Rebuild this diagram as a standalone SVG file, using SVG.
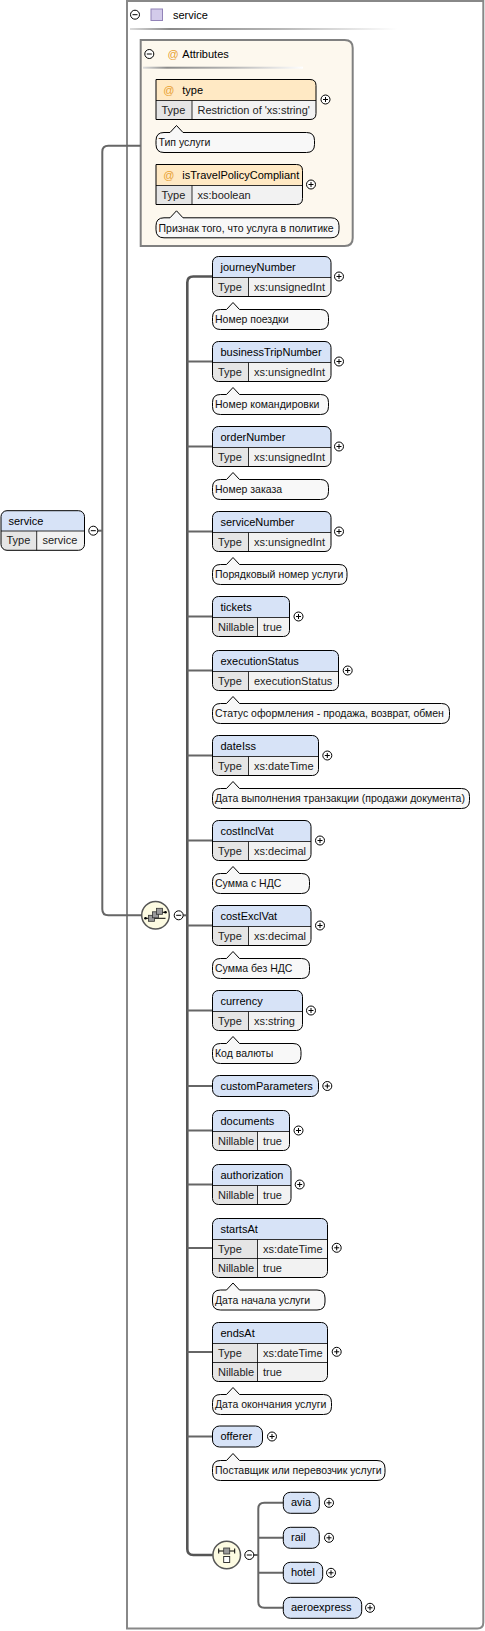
<svg xmlns="http://www.w3.org/2000/svg" xmlns:xlink="http://www.w3.org/1999/xlink" width="485" height="1631" viewBox="0 0 485 1631">
<style>
text{font-family:"Liberation Sans",Arial,sans-serif;}
.lbl{font-size:11px;fill:#000;}
.cell{font-size:11px;fill:#222;}
.ann{font-size:10.5px;fill:#111;}
.at{font-size:11px;fill:#E8A030;}
.hd{fill:#D7E3F7;}
.ah{fill:#FFE9C4;}
.tc{fill:#E5E5E5;}
.vc{fill:#F2F2F2;}
.ol{fill:none;stroke:#000;stroke-width:1;}
.sep{fill:none;stroke:#000;stroke-width:0.8;}
.an{fill:#F8F8F8;stroke:#000;stroke-width:1;}
.one{fill:#D7E3F7;stroke:#000;stroke-width:1;}
.cn{fill:none;stroke:#666;stroke-width:2;}
.pm circle{fill:#fff;stroke:#000;stroke-width:1;}
.pm path{fill:none;stroke:#000;stroke-width:1;}
.comp{fill:#FDFBE2;stroke:#555;stroke-width:1.5;}
.ico{fill:#9a9a9a;stroke:#333;stroke-width:0.8;}
</style>
<defs>
<g id="plus" class="pm"><circle r="4.5"/><path d="M-2.5,0H2.5M0,-2.5V2.5"/></g>
<g id="minus" class="pm"><circle r="4.5"/><path d="M-2.5,0H2.5"/></g>
<linearGradient id="hl" x1="0" x2="1" y1="0" y2="0">
<stop offset="0" stop-color="#dcdcdc"/><stop offset="0.15" stop-color="#8a8a8a"/><stop offset="0.55" stop-color="#b5b5b5"/><stop offset="1" stop-color="#ffffff"/>
</linearGradient>
</defs>
<rect width="485" height="1631" fill="#fff"/>

<!-- outer complexType box -->
<g id="complexType-service">
<path d="M127,1H483.3V1622.5Q483.3,1628.5 477.3,1628.5H127Z" fill="#fff" stroke="#888" stroke-width="2"/>
<use xlink:href="#minus" href="#minus" x="135" y="14.7"/>
<rect x="151" y="9" width="11.5" height="11.5" fill="#D3CBEA" stroke="#9283B8" stroke-width="1"/>
<text class="lbl" x="173" y="18.5">service</text>
<rect x="130" y="28" width="267" height="2" fill="url(#hl)"/>
</g>

<!-- attributes container -->
<g id="attributes">
<path d="M140.7,40H344.7Q352.7,40 352.7,48V238Q352.7,246 344.7,246H140.7Z" fill="#FDF8EE" stroke="#808080" stroke-width="2"/>
<use xlink:href="#minus" href="#minus" x="149.3" y="54"/>
<text class="at" x="167.5" y="57.5">@</text>
<text class="lbl" x="182.3" y="57.5">Attributes</text>
<rect x="143" y="66.7" width="160" height="2" fill="url(#hl)"/>
</g>

<g id="attr-type" transform="translate(156,79.5)">
<path class="ah" d="M0,21V0H154Q160,0 160,6V21Z"/>
<path class="vc" d="M0,21H160V34Q160,40 154,40H0Z"/>
<rect class="tc" x="0" y="21" width="36" height="19"/>
<path class="ol" d="M0,0H154Q160,0 160,6V34Q160,40 154,40H0Z"/>
<path class="sep" d="M0,21H160M36,21V40"/>
<text class="at" x="7.3" y="14.5">@</text>
<text class="lbl" x="26.3" y="14.5">type</text>
<text class="cell" x="5.5" y="34.5">Type</text>
<text class="cell" x="41.5" y="34.5">Restriction of 'xs:string'</text>
<use xlink:href="#plus" href="#plus" x="169.5" y="20"/>
<g transform="translate(0,53)">
<path class="an" d="M8,0H14L20.5,-7L27,0H150.5Q158.5,0 158.5,8V12Q158.5,20 150.5,20H8Q0,20 0,12V8Q0,0 8,0Z"/>
<text class="ann" x="2.5" y="13.8">Тип услуги</text>
</g>
</g>

<g id="attr-isTravelPolicyCompliant" transform="translate(156,164.5)">
<path class="ah" d="M0,21V0H140.5Q146.5,0 146.5,6V21Z"/>
<path class="vc" d="M0,21H146.5V34Q146.5,40 140.5,40H0Z"/>
<rect class="tc" x="0" y="21" width="36" height="19"/>
<path class="ol" d="M0,0H140.5Q146.5,0 146.5,6V34Q146.5,40 140.5,40H0Z"/>
<path class="sep" d="M0,21H146.5M36,21V40"/>
<text class="at" x="7.3" y="14.5">@</text>
<text class="lbl" x="26.3" y="14.5">isTravelPolicyCompliant</text>
<text class="cell" x="5.5" y="34.5">Type</text>
<text class="cell" x="41.5" y="34.5">xs:boolean</text>
<use xlink:href="#plus" href="#plus" x="155" y="20"/>
<g transform="translate(0,53.3)">
<path class="an" d="M8,0H14L20.5,-7L27,0H175Q183,0 183,8V12Q183,20 175,20H8Q0,20 0,12V8Q0,0 8,0Z"/>
<text class="ann" x="2.5" y="13.8">Признак того, что услуга в политике</text>
</g>
</g>

<!-- connectors -->
<g id="connectors" class="cn">
<path d="M97.8,530.7H102.3"/>
<path d="M140.7,145.7H108.3Q102.3,145.7 102.3,151.7V909.3Q102.3,915.3 108.3,915.3H141.5"/>
<path d="M183.2,915.3H187.3"/>
<path d="M212.5,276.5H193.3Q187.3,276.5 187.3,282.5V1549Q187.3,1555 193.3,1555H212.7" stroke="#555" stroke-width="2.6"/>
<path d="M187.3,361.5H212.5M187.3,446.5H212.5M187.3,531.5H212.5M187.3,616.5H212.5M187.3,670.5H212.5M187.3,755.5H212.5M187.3,840.5H212.5M187.3,925.5H212.5M187.3,1010.5H212.5M187.3,1086H212.5M187.3,1130.5H212.5M187.3,1184.5H212.5M187.3,1248H212.5M187.3,1352H212.5M187.3,1436.5H212.5"/>
<path d="M253.8,1555H258.3"/>
<path d="M283.3,1502.8H264.3Q258.3,1502.8 258.3,1508.8V1601.8Q258.3,1607.8 264.3,1607.8H283.3"/>
<path d="M258.3,1537.8H283.3M258.3,1572.8H283.3"/>
</g>

<!-- root element -->
<g id="el-service" transform="translate(1,510.7)">
<path class="hd" d="M0,20.3V6Q0,0 6,0H77.5Q83.5,0 83.5,6V20.3Z"/>
<path class="vc" d="M0,20.3H83.5V33.6Q83.5,39.6 77.5,39.6H6Q0,39.6 0,33.6Z"/>
<path class="tc" d="M0,20.3H35.7V39.6H6Q0,39.6 0,33.6Z"/>
<rect class="ol" width="83.5" height="39.6" rx="6"/>
<path class="sep" d="M0,20.3H83.5M35.7,20.3V39.6"/>
<text class="lbl" x="7.5" y="14.3">service</text>
<text class="cell" x="5.5" y="33.8">Type</text>
<text class="cell" x="41.5" y="33.8">service</text>
<use xlink:href="#minus" href="#minus" x="92.3" y="20"/>
</g>

<!-- sequence compositor -->
<g id="sequence" transform="translate(155.5,915.3)">
<circle class="comp" r="13.8"/>
<path d="M-10,3H10" stroke="#000" stroke-width="1"/>
<circle cx="-10" cy="3" r="1.3" fill="#000"/>
<circle cx="10" cy="-3" r="1.3" fill="#000"/>
<path d="M6,-3H10" stroke="#000" stroke-width="1"/>
<rect class="ico" x="-7" y="0" width="6" height="6"/>
<rect class="ico" x="-3" y="-3.5" width="6" height="6"/>
<rect class="ico" x="1" y="-7" width="6" height="6"/>
<use xlink:href="#minus" href="#minus" x="23.2" y="0"/>
</g>

<g id="el-journeyNumber" transform="translate(212.5,256.5)">
<path class="hd" d="M0,21V6Q0,0 6,0H112.5Q118.5,0 118.5,6V21Z"/>
<path class="vc" d="M0,21H118.5V34Q118.5,40 112.5,40H6Q0,40 0,34Z"/>
<path class="tc" d="M0,21H36V40H6Q0,40 0,34Z"/>
<rect class="ol" width="118.5" height="40" rx="6"/>
<path class="sep" d="M0,21H118.5M36,21V40"/>
<text class="lbl" x="8" y="14">journeyNumber</text>
<text class="cell" x="5.5" y="34.4">Type</text>
<text class="cell" x="41.5" y="34.4">xs:unsignedInt</text>
<use xlink:href="#plus" href="#plus" x="126.5" y="20"/>
<g transform="translate(0,53)">
<path class="an" d="M8,0H14L20.5,-7L27,0H108Q116,0 116,8V12Q116,20 108,20H8Q0,20 0,12V8Q0,0 8,0Z"/>
<text class="ann" x="2.5" y="13.8">Номер поездки</text>
</g>
</g>

<g id="el-businessTripNumber" transform="translate(212.5,341.5)">
<path class="hd" d="M0,21V6Q0,0 6,0H112.5Q118.5,0 118.5,6V21Z"/>
<path class="vc" d="M0,21H118.5V34Q118.5,40 112.5,40H6Q0,40 0,34Z"/>
<path class="tc" d="M0,21H36V40H6Q0,40 0,34Z"/>
<rect class="ol" width="118.5" height="40" rx="6"/>
<path class="sep" d="M0,21H118.5M36,21V40"/>
<text class="lbl" x="8" y="14">businessTripNumber</text>
<text class="cell" x="5.5" y="34.4">Type</text>
<text class="cell" x="41.5" y="34.4">xs:unsignedInt</text>
<use xlink:href="#plus" href="#plus" x="126.5" y="20"/>
<g transform="translate(0,53)">
<path class="an" d="M8,0H14L20.5,-7L27,0H108Q116,0 116,8V12Q116,20 108,20H8Q0,20 0,12V8Q0,0 8,0Z"/>
<text class="ann" x="2.5" y="13.8">Номер командировки</text>
</g>
</g>

<g id="el-orderNumber" transform="translate(212.5,426.5)">
<path class="hd" d="M0,21V6Q0,0 6,0H112.5Q118.5,0 118.5,6V21Z"/>
<path class="vc" d="M0,21H118.5V34Q118.5,40 112.5,40H6Q0,40 0,34Z"/>
<path class="tc" d="M0,21H36V40H6Q0,40 0,34Z"/>
<rect class="ol" width="118.5" height="40" rx="6"/>
<path class="sep" d="M0,21H118.5M36,21V40"/>
<text class="lbl" x="8" y="14">orderNumber</text>
<text class="cell" x="5.5" y="34.4">Type</text>
<text class="cell" x="41.5" y="34.4">xs:unsignedInt</text>
<use xlink:href="#plus" href="#plus" x="126.5" y="20"/>
<g transform="translate(0,53)">
<path class="an" d="M8,0H14L20.5,-7L27,0H108Q116,0 116,8V12Q116,20 108,20H8Q0,20 0,12V8Q0,0 8,0Z"/>
<text class="ann" x="2.5" y="13.8">Номер заказа</text>
</g>
</g>

<g id="el-serviceNumber" transform="translate(212.5,511.5)">
<path class="hd" d="M0,21V6Q0,0 6,0H112.5Q118.5,0 118.5,6V21Z"/>
<path class="vc" d="M0,21H118.5V34Q118.5,40 112.5,40H6Q0,40 0,34Z"/>
<path class="tc" d="M0,21H36V40H6Q0,40 0,34Z"/>
<rect class="ol" width="118.5" height="40" rx="6"/>
<path class="sep" d="M0,21H118.5M36,21V40"/>
<text class="lbl" x="8" y="14">serviceNumber</text>
<text class="cell" x="5.5" y="34.4">Type</text>
<text class="cell" x="41.5" y="34.4">xs:unsignedInt</text>
<use xlink:href="#plus" href="#plus" x="126.5" y="20"/>
<g transform="translate(0,53)">
<path class="an" d="M8,0H14L20.5,-7L27,0H126.5Q134.5,0 134.5,8V12Q134.5,20 126.5,20H8Q0,20 0,12V8Q0,0 8,0Z"/>
<text class="ann" x="2.5" y="13.8">Порядковый номер услуги</text>
</g>
</g>

<g id="el-tickets" transform="translate(212.5,596.5)">
<path class="hd" d="M0,21V6Q0,0 6,0H71Q77,0 77,6V21Z"/>
<path class="vc" d="M0,21H77V34Q77,40 71,40H6Q0,40 0,34Z"/>
<path class="tc" d="M0,21H45V40H6Q0,40 0,34Z"/>
<rect class="ol" width="77" height="40" rx="6"/>
<path class="sep" d="M0,21H77M45,21V40"/>
<text class="lbl" x="8" y="14">tickets</text>
<text class="cell" x="5.5" y="34.4">Nillable</text>
<text class="cell" x="50.5" y="34.4">true</text>
<use xlink:href="#plus" href="#plus" x="86" y="20"/>
</g>

<g id="el-executionStatus" transform="translate(212.5,650.5)">
<path class="hd" d="M0,21V6Q0,0 6,0H120Q126,0 126,6V21Z"/>
<path class="vc" d="M0,21H126V34Q126,40 120,40H6Q0,40 0,34Z"/>
<path class="tc" d="M0,21H36V40H6Q0,40 0,34Z"/>
<rect class="ol" width="126" height="40" rx="6"/>
<path class="sep" d="M0,21H126M36,21V40"/>
<text class="lbl" x="8" y="14">executionStatus</text>
<text class="cell" x="5.5" y="34.4">Type</text>
<text class="cell" x="41.5" y="34.4">executionStatus</text>
<use xlink:href="#plus" href="#plus" x="135.2" y="20"/>
<g transform="translate(0,53)">
<path class="an" d="M8,0H14L20.5,-7L27,0H229Q237,0 237,8V12Q237,20 229,20H8Q0,20 0,12V8Q0,0 8,0Z"/>
<text class="ann" x="2.5" y="13.8">Статус оформления - продажа, возврат, обмен</text>
</g>
</g>

<g id="el-dateIss" transform="translate(212.5,735.5)">
<path class="hd" d="M0,21V6Q0,0 6,0H100Q106,0 106,6V21Z"/>
<path class="vc" d="M0,21H106V34Q106,40 100,40H6Q0,40 0,34Z"/>
<path class="tc" d="M0,21H36V40H6Q0,40 0,34Z"/>
<rect class="ol" width="106" height="40" rx="6"/>
<path class="sep" d="M0,21H106M36,21V40"/>
<text class="lbl" x="8" y="14">dateIss</text>
<text class="cell" x="5.5" y="34.4">Type</text>
<text class="cell" x="41.5" y="34.4">xs:dateTime</text>
<use xlink:href="#plus" href="#plus" x="114.8" y="20"/>
<g transform="translate(0,53)">
<path class="an" d="M8,0H14L20.5,-7L27,0H249Q257,0 257,8V12Q257,20 249,20H8Q0,20 0,12V8Q0,0 8,0Z"/>
<text class="ann" x="2.5" y="13.8">Дата выполнения транзакции (продажи документа)</text>
</g>
</g>

<g id="el-costInclVat" transform="translate(212.5,820.5)">
<path class="hd" d="M0,21V6Q0,0 6,0H92.5Q98.5,0 98.5,6V21Z"/>
<path class="vc" d="M0,21H98.5V34Q98.5,40 92.5,40H6Q0,40 0,34Z"/>
<path class="tc" d="M0,21H36V40H6Q0,40 0,34Z"/>
<rect class="ol" width="98.5" height="40" rx="6"/>
<path class="sep" d="M0,21H98.5M36,21V40"/>
<text class="lbl" x="8" y="14">costInclVat</text>
<text class="cell" x="5.5" y="34.4">Type</text>
<text class="cell" x="41.5" y="34.4">xs:decimal</text>
<use xlink:href="#plus" href="#plus" x="107.5" y="20"/>
<g transform="translate(0,53)">
<path class="an" d="M8,0H14L20.5,-7L27,0H89Q97,0 97,8V12Q97,20 89,20H8Q0,20 0,12V8Q0,0 8,0Z"/>
<text class="ann" x="2.5" y="13.8">Сумма с НДС</text>
</g>
</g>

<g id="el-costExclVat" transform="translate(212.5,905.5)">
<path class="hd" d="M0,21V6Q0,0 6,0H92.5Q98.5,0 98.5,6V21Z"/>
<path class="vc" d="M0,21H98.5V34Q98.5,40 92.5,40H6Q0,40 0,34Z"/>
<path class="tc" d="M0,21H36V40H6Q0,40 0,34Z"/>
<rect class="ol" width="98.5" height="40" rx="6"/>
<path class="sep" d="M0,21H98.5M36,21V40"/>
<text class="lbl" x="8" y="14">costExclVat</text>
<text class="cell" x="5.5" y="34.4">Type</text>
<text class="cell" x="41.5" y="34.4">xs:decimal</text>
<use xlink:href="#plus" href="#plus" x="107.5" y="20"/>
<g transform="translate(0,53)">
<path class="an" d="M8,0H14L20.5,-7L27,0H89Q97,0 97,8V12Q97,20 89,20H8Q0,20 0,12V8Q0,0 8,0Z"/>
<text class="ann" x="2.5" y="13.8">Сумма без НДС</text>
</g>
</g>

<g id="el-currency" transform="translate(212.5,990.5)">
<path class="hd" d="M0,21V6Q0,0 6,0H84Q90,0 90,6V21Z"/>
<path class="vc" d="M0,21H90V34Q90,40 84,40H6Q0,40 0,34Z"/>
<path class="tc" d="M0,21H36V40H6Q0,40 0,34Z"/>
<rect class="ol" width="90" height="40" rx="6"/>
<path class="sep" d="M0,21H90M36,21V40"/>
<text class="lbl" x="8" y="14">currency</text>
<text class="cell" x="5.5" y="34.4">Type</text>
<text class="cell" x="41.5" y="34.4">xs:string</text>
<use xlink:href="#plus" href="#plus" x="98.5" y="20"/>
<g transform="translate(0,53)">
<path class="an" d="M8,0H14L20.5,-7L27,0H80.5Q88.5,0 88.5,8V12Q88.5,20 80.5,20H8Q0,20 0,12V8Q0,0 8,0Z"/>
<text class="ann" x="2.5" y="13.8">Код валюты</text>
</g>
</g>

<g id="el-customParameters" transform="translate(212.5,1075.5)">
<rect class="one" width="106" height="21" rx="7"/>
<text class="lbl" x="8" y="14">customParameters</text>
<use xlink:href="#plus" href="#plus" x="114.8" y="10.5"/>
</g>

<g id="el-documents" transform="translate(212.5,1110.5)">
<path class="hd" d="M0,21V6Q0,0 6,0H71Q77,0 77,6V21Z"/>
<path class="vc" d="M0,21H77V34Q77,40 71,40H6Q0,40 0,34Z"/>
<path class="tc" d="M0,21H45V40H6Q0,40 0,34Z"/>
<rect class="ol" width="77" height="40" rx="6"/>
<path class="sep" d="M0,21H77M45,21V40"/>
<text class="lbl" x="8" y="14">documents</text>
<text class="cell" x="5.5" y="34.4">Nillable</text>
<text class="cell" x="50.5" y="34.4">true</text>
<use xlink:href="#plus" href="#plus" x="86" y="20"/>
</g>

<g id="el-authorization" transform="translate(212.5,1164.5)">
<path class="hd" d="M0,21V6Q0,0 6,0H72.5Q78.5,0 78.5,6V21Z"/>
<path class="vc" d="M0,21H78.5V34Q78.5,40 72.5,40H6Q0,40 0,34Z"/>
<path class="tc" d="M0,21H45V40H6Q0,40 0,34Z"/>
<rect class="ol" width="78.5" height="40" rx="6"/>
<path class="sep" d="M0,21H78.5M45,21V40"/>
<text class="lbl" x="8" y="14">authorization</text>
<text class="cell" x="5.5" y="34.4">Nillable</text>
<text class="cell" x="50.5" y="34.4">true</text>
<use xlink:href="#plus" href="#plus" x="87.2" y="20"/>
</g>

<g id="el-startsAt" transform="translate(212.5,1218.5)">
<path class="hd" d="M0,21V6Q0,0 6,0H109Q115,0 115,6V21Z"/>
<path class="vc" d="M0,21H115V53Q115,59 109,59H6Q0,59 0,53Z"/>
<path class="tc" d="M0,21H45V59H6Q0,59 0,53Z"/>
<rect class="ol" width="115" height="59" rx="6"/>
<path class="sep" d="M0,21H115M0,40H115M45,21V59"/>
<text class="lbl" x="8" y="14">startsAt</text>
<text class="cell" x="5.5" y="34.4">Type</text>
<text class="cell" x="50.5" y="34.4">xs:dateTime</text>
<text class="cell" x="5.5" y="53.4">Nillable</text>
<text class="cell" x="50.5" y="53.4">true</text>
<use xlink:href="#plus" href="#plus" x="124.2" y="29.3"/>
<g transform="translate(0,71.5)">
<path class="an" d="M8,0H14L20.5,-7L27,0H104.5Q112.5,0 112.5,8V12Q112.5,20 104.5,20H8Q0,20 0,12V8Q0,0 8,0Z"/>
<text class="ann" x="2.5" y="13.8">Дата начала услуги</text>
</g>
</g>

<g id="el-endsAt" transform="translate(212.5,1322.5)">
<path class="hd" d="M0,21V6Q0,0 6,0H109Q115,0 115,6V21Z"/>
<path class="vc" d="M0,21H115V53Q115,59 109,59H6Q0,59 0,53Z"/>
<path class="tc" d="M0,21H45V59H6Q0,59 0,53Z"/>
<rect class="ol" width="115" height="59" rx="6"/>
<path class="sep" d="M0,21H115M0,40H115M45,21V59"/>
<text class="lbl" x="8" y="14">endsAt</text>
<text class="cell" x="5.5" y="34.4">Type</text>
<text class="cell" x="50.5" y="34.4">xs:dateTime</text>
<text class="cell" x="5.5" y="53.4">Nillable</text>
<text class="cell" x="50.5" y="53.4">true</text>
<use xlink:href="#plus" href="#plus" x="124.2" y="29.3"/>
<g transform="translate(0,72)">
<path class="an" d="M8,0H14L20.5,-7L27,0H111Q119,0 119,8V12Q119,20 111,20H8Q0,20 0,12V8Q0,0 8,0Z"/>
<text class="ann" x="2.5" y="13.8">Дата окончания услуги</text>
</g>
</g>

<g id="el-offerer" transform="translate(212.5,1426)">
<rect class="one" width="50" height="21" rx="7"/>
<text class="lbl" x="8" y="14">offerer</text>
<use xlink:href="#plus" href="#plus" x="59.5" y="10.5"/>
<g transform="translate(0,34.5)">
<path class="an" d="M8,0H14L20.5,-7L27,0H164.5Q172.5,0 172.5,8V12Q172.5,20 164.5,20H8Q0,20 0,12V8Q0,0 8,0Z"/>
<text class="ann" x="2.5" y="13.8">Поставщик или перевозчик услуги</text>
</g>
</g>

<!-- choice compositor -->
<g id="choice" transform="translate(226.7,1555)">
<circle class="comp" r="13.8"/>
<path d="M-8,-4H8" stroke="#000" stroke-width="1"/>
<path d="M-8,-6.5V-1.5M8,-6.5V-1.5" stroke="#000" stroke-width="1"/>
<rect class="ico" x="-3" y="-7" width="6" height="6"/>
<rect x="-3" y="1.5" width="6" height="6" fill="#fff" stroke="#222" stroke-width="0.9"/>
<use xlink:href="#minus" href="#minus" x="22.6" y="0"/>
</g>

<g id="el-avia" transform="translate(283.3,1492.3)">
<rect class="one" width="36" height="21" rx="7"/>
<text class="lbl" x="7.7" y="14">avia</text>
<use xlink:href="#plus" href="#plus" x="45.7" y="10.5"/>
</g>
<g id="el-rail" transform="translate(283.3,1527.3)">
<rect class="one" width="36" height="21" rx="7"/>
<text class="lbl" x="7.7" y="14">rail</text>
<use xlink:href="#plus" href="#plus" x="45.7" y="10.5"/>
</g>
<g id="el-hotel" transform="translate(283.3,1562.3)">
<rect class="one" width="39.4" height="21" rx="7"/>
<text class="lbl" x="7.7" y="14">hotel</text>
<use xlink:href="#plus" href="#plus" x="47.7" y="10.5"/>
</g>
<g id="el-aeroexpress" transform="translate(283.3,1597.3)">
<rect class="one" width="78.4" height="21" rx="7"/>
<text class="lbl" x="7.7" y="14">aeroexpress</text>
<use xlink:href="#plus" href="#plus" x="86.7" y="10.5"/>
</g>
</svg>
